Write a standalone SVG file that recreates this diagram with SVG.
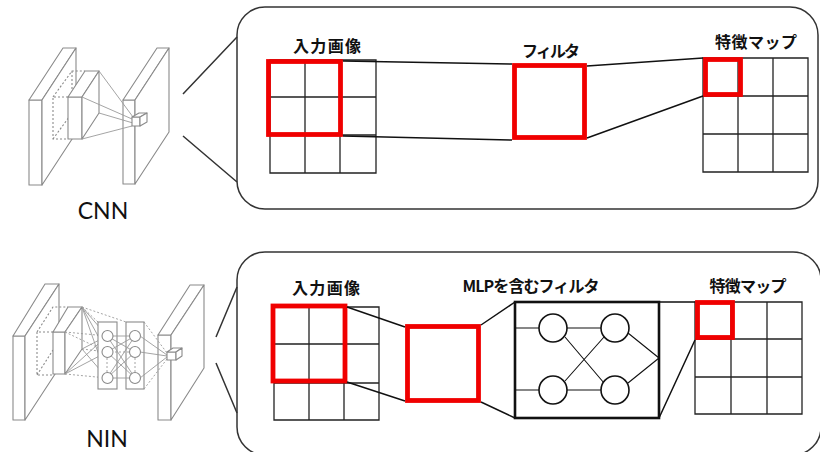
<svg xmlns="http://www.w3.org/2000/svg" width="820" height="452" viewBox="0 0 820 452">
  <style>
    .panel { fill: none; stroke: #333; stroke-width: 1.5; }
    .callout { stroke: #333; stroke-width: 1.5; fill: none; }
    .grid { fill: none; stroke: #222; stroke-width: 1.3; }
    .hot { fill: none; stroke: #f00000; stroke-width: 4.8; }
    .link { stroke: #111; stroke-width: 1.5; fill: none; }
    .label { font-family: "Noto Sans CJK JP", "Noto Sans", sans-serif; font-weight: bold; font-size: 16px; fill: #111; text-anchor: middle; }
    .name { font-family: Lato, "Open Sans", "Liberation Sans", sans-serif; font-size: 23px; fill: #111; text-anchor: middle; }
    .slab { fill: #fff; stroke: #8a8a8a; stroke-width: 1.1; stroke-linejoin: round; }
    .dots { fill: none; stroke: #8a8a8a; stroke-width: 1.1; stroke-dasharray: 2 2; }
    .ray { fill: none; stroke: #9a9a9a; stroke-width: 0.9; }
    .rayd { fill: none; stroke: #9a9a9a; stroke-width: 0.9; stroke-dasharray: 2 2; }
    .unit { fill: #fff; stroke: #8a8a8a; stroke-width: 1.1; }
    .neuron { fill: #fff; stroke: #111; stroke-width: 1.6; }
    .wire { stroke: #111; stroke-width: 1.1; fill: none; }
  </style>

  <!-- CNN sketch -->
  <g id="cnn-sketch">
    <rect class="slab" x="29" y="100" width="13" height="85"/>
    <polygon class="slab" points="29,100 63,48 76,48 42,100"/>
    <polygon class="slab" points="42,100 76,48 76,133 42,185"/>
    <path class="dots" d="M68,97 H53 V139 H68 M53,97 L72,71 H85 M72,71 V113 M53,139 L72,113"/>
    <rect class="slab" x="68" y="97" width="14" height="42"/>
    <polygon class="slab" points="68,97 85,71 99,71 82,97"/>
    <polygon class="slab" points="82,97 99,71 99,113 82,139"/>
    <rect class="slab" x="123" y="100" width="12" height="84"/>
    <polygon class="slab" points="123,100 157,48 169,48 135,100"/>
    <polygon class="slab" points="135,100 169,48 169,132 135,184"/>
    <path class="ray" d="M99,71 L133,117 M82,97 L132,119 M82,139 L132,126 M99,113 L133,123"/>
    <rect class="slab" x="132" y="117" width="8" height="9"/>
    <polygon class="slab" points="132,117 139,113 147,113 140,117"/>
    <polygon class="slab" points="140,117 147,113 147,122 140,126"/>
    <text class="name" x="103" y="219">CNN</text>
  </g>

  <!-- NIN sketch -->
  <g id="nin-sketch">
    <rect class="slab" x="13" y="336" width="12" height="84"/>
    <polygon class="slab" points="13,336 45,284 59,284 25,336"/>
    <polygon class="slab" points="25,336 59,284 59,368 25,420"/>
    <path class="dots" d="M53,332 H37 V375 H53 M37,332 L53,307 H68 M37,375 L53,350"/>
    <rect class="slab" x="53" y="332" width="12" height="42"/>
    <polygon class="slab" points="53,332 68,307 82,307 65,332"/>
    <polygon class="slab" points="65,332 82,307 82,349 65,374"/>
    <path class="ray" d="M82,307 L107,336 M82,307 L107,352 M82,307 L107,378 M82,349 L107,336 M82,349 L107,378 M65,374 L107,352 M65,374 L107,336"/>
    <path class="rayd" d="M82,307 L98,322 M65,332 L107,336 M65,332 L107,352 M82,349 L107,352 M65,374 L107,378 M82,307 L126,322"/>
    <rect class="unit" x="98" y="322" width="19" height="67" fill="none"/>
    <rect class="unit" x="126" y="322" width="18" height="67" fill="none"/>
    <path class="ray" d="M107,336 L135,336 M107,336 L135,352 M107,336 L135,378 M107,352 L135,336 M107,352 L135,378 M107,378 L135,336 M107,378 L135,352 M107,378 L135,378"/>
    <path class="rayd" d="M107,352 L135,352 M107,358 V372 M135,358 V372"/>
    <g class="unit">
      <circle cx="107.5" cy="336" r="5.5"/>
      <circle cx="107.5" cy="352" r="5.5"/>
      <circle cx="107.5" cy="378" r="5.5"/>
      <circle cx="135" cy="336" r="5.5"/>
      <circle cx="135" cy="352" r="5.5"/>
      <circle cx="135" cy="378" r="5.5"/>
    </g>
    <rect class="slab" x="158" y="335" width="13" height="85"/>
    <polygon class="slab" points="158,335 190,285 204,285 171,335"/>
    <polygon class="slab" points="171,335 204,285 204,368 171,420"/>
    <path class="ray" d="M140,336 L167,355 M140,352 L167,356 M140,378 L167,357"/>
    <path class="rayd" d="M144,322 L167,353 M144,389 L167,359"/>
    <rect class="slab" x="167" y="352" width="9" height="8"/>
    <polygon class="slab" points="167,352 173,348 182,348 176,352"/>
    <polygon class="slab" points="176,352 182,348 182,356 176,360"/>
    <text class="name" x="107" y="447">NIN</text>
  </g>

  <!-- callout bubbles -->
  <g id="cnn-panel">
    <rect class="panel" x="237" y="7" width="581" height="202" rx="28"/>
  </g>
  <g id="nin-panel">
    <rect class="panel" x="237" y="252" width="584" height="203" rx="28"/>
  </g>

  <!-- CNN: input image -->
  <g id="cnn-input">
    <text class="label" x="327" y="52" textLength="68" lengthAdjust="spacing">入力画像</text>
    <path class="grid" d="M270,60 H376 V173 H270 Z M305,60 V173 M340,60 V173 M270,97 H376 M270,135 H376"/>
    <rect class="hot" x="268.5" y="61.5" width="72" height="73"/>
  </g>

  <!-- CNN: filter -->
  <g id="cnn-filter">
    <text class="label" x="551" y="57" textLength="58" lengthAdjust="spacing">フィルタ</text>
    <rect class="hot" x="514.5" y="65.5" width="70" height="72"/>
  </g>

  <!-- CNN: feature map -->
  <g id="cnn-feature">
    <text class="label" x="756" y="48" textLength="82" lengthAdjust="spacing">特徴マップ</text>
    <path class="grid" d="M703,58 H808 V172 H703 Z M738,58 V172 M773,58 V172 M703,96 H808 M703,134 H808"/>
    <rect class="hot" x="705.5" y="59.5" width="35" height="35"/>
  </g>

  <!-- NIN: input image -->
  <g id="nin-input">
    <text class="label" x="326" y="294" textLength="68" lengthAdjust="spacing">入力画像</text>
    <path class="grid" d="M274,307 H379 V420 H274 Z M309,307 V420 M344,307 V420 M274,344 H379 M274,383 H379"/>
    <rect class="hot" x="273" y="306" width="72" height="75"/>
  </g>

  <!-- NIN: filter -->
  <g id="nin-filter">
    <rect class="hot" x="407.5" y="326.5" width="71" height="74"/>
  </g>

  <!-- NIN: MLP inside the filter -->
  <g id="nin-mlp">
    <text class="label" x="531" y="292" textLength="137" lengthAdjust="spacing">MLPを含むフィルタ</text>
    <rect x="515" y="302" width="144" height="116" fill="none" stroke="#111" stroke-width="2.6"/>
    <path class="wire" d="M515,328 H539 M515,390 H539 M567,328 H601 M567,390 H601 M565,337 L604,383 M565,381 L604,337 M628,333 L659,358 M628,383 L659,358"/>
    <circle class="neuron" cx="553" cy="328" r="14"/>
    <circle class="neuron" cx="553" cy="390" r="14"/>
    <circle class="neuron" cx="615" cy="328" r="14"/>
    <circle class="neuron" cx="615" cy="390" r="14"/>
  </g>

  <!-- NIN: feature map -->
  <g id="nin-feature">
    <text class="label" x="748" y="292" textLength="77" lengthAdjust="spacing">特徴マップ</text>
    <path class="grid" d="M695,302 H802 V414 H695 Z M731,302 V414 M767,302 V414 M695,339 H802 M695,377 H802"/>
    <rect class="hot" x="697.5" y="302.5" width="35" height="35"/>
  </g>

  <!-- connectors -->
  <g id="connectors">
    <path class="callout" d="M183,94 L237,37 M183,136 L237,182"/>
    <path class="callout" d="M216,337 L237,287 M216,363 L237,413"/>
    <path class="link" d="M343,61 L512,64 M343,136 L512,140 M587,66 L703,58 M587,138 L703,96"/>
    <path class="link" d="M347,307 L405,327 M347,382 L405,401 M481,325 L515,302 M481,402 L515,418 M659,302 L695,302 M659,418 L695,340"/>
  </g>
</svg>
